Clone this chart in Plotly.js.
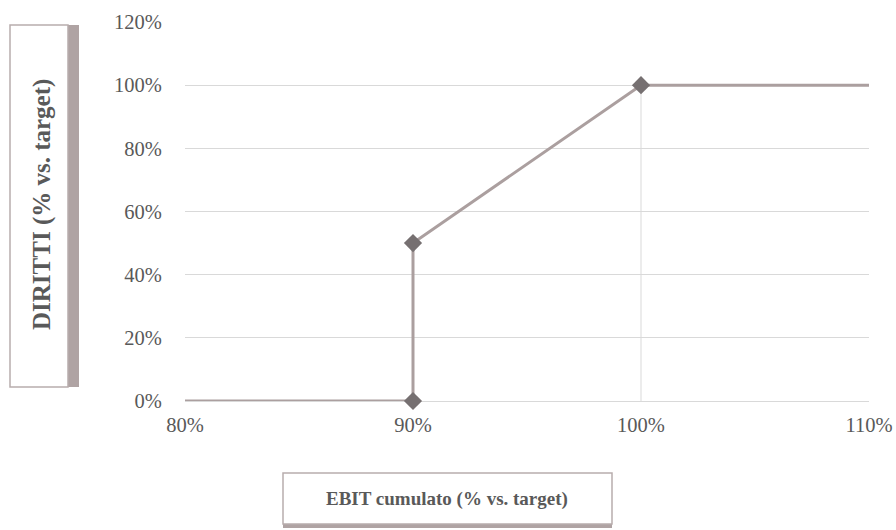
<!DOCTYPE html>
<html>
<head>
<meta charset="utf-8">
<script src="https://cdn.plot.ly/plotly-3.0.1.min.js"></script>
<style>html,body{margin:0;padding:0;background:#fff;}#chart{width:896px;height:530px;}</style>
</head>
<body>
<div id="chart"></div>
<script>
// Data (percent values)
const ebit = [80, 90, 90, 100, 110];
const diritti = [0, 0, 50, 100, 100];
const xTicks = [80, 90, 100, 110];
const yTicks = [0, 20, 40, 60, 80, 100, 120];
const xTitle = 'EBIT cumulato (% vs. target)';
const yTitle = 'DIRITTI (% vs. target)';

const serif = 'Liberation Serif, Times New Roman, serif';
const grey = '#595959';

const dropLine = {
  x: [ebit[3], ebit[3]], y: [0, diritti[3]],
  mode: 'lines', line: {color: '#d9d9d9', width: 1},
  hoverinfo: 'skip', showlegend: false
};
const mainLine = {
  x: ebit, y: diritti, mode: 'lines',
  line: {color: '#ab9f9f', width: 3},
  cliponaxis: false, showlegend: false
};
const markers = {
  x: ebit.slice(1, 4), y: diritti.slice(1, 4), mode: 'markers',
  marker: {symbol: 'diamond', size: 14, color: '#767071'},
  cliponaxis: false, showlegend: false
};

const layout = {
  width: 896, height: 530,
  margin: {l: 185, r: 27, t: 22, b: 129},
  paper_bgcolor: '#fff', plot_bgcolor: '#fff',
  xaxis: {
    range: [80, 110], tickvals: xTicks, ticktext: xTicks.map(v => v + '%'),
    showgrid: false, zeroline: false, showline: false,
    ticks: 'outside', ticklen: 5, tickcolor: 'rgba(0,0,0,0)',
    tickfont: {family: serif, size: 20.5, color: grey}, fixedrange: true
  },
  yaxis: {
    range: [0, 120], tickvals: yTicks, ticktext: yTicks.map(v => v + '%'),
    showgrid: true, gridcolor: '#d9d9d9', gridwidth: 1,
    zeroline: true, zerolinecolor: '#d9d9d9', zerolinewidth: 1, showline: false,
    ticks: 'outside', ticklen: 18, tickcolor: 'rgba(0,0,0,0)',
    tickfont: {family: serif, size: 20.5, color: grey}, fixedrange: true
  },
  shapes: [
    {type: 'rect', xref: 'paper', yref: 'paper', xsizemode: 'pixel', ysizemode: 'pixel',
     xanchor: 0, yanchor: 0, x0: -118, x1: -106, y0: 14, y1: 376,
     fillcolor: '#afa3a3', line: {width: 0}},
    {type: 'rect', xref: 'paper', yref: 'paper', xsizemode: 'pixel', ysizemode: 'pixel',
     xanchor: 0, yanchor: 0, x0: -175, x1: -117, y0: 14, y1: 376,
     fillcolor: '#ffffff', line: {color: '#b8adad', width: 1.5}},
    {type: 'rect', xref: 'paper', yref: 'paper', xsizemode: 'pixel', ysizemode: 'pixel',
     xanchor: 0, yanchor: 0, x0: 98, x1: 427, y0: -127, y1: -122,
     fillcolor: '#afa3a3', line: {width: 0}},
    {type: 'rect', xref: 'paper', yref: 'paper', xsizemode: 'pixel', ysizemode: 'pixel',
     xanchor: 0, yanchor: 0, x0: 98, x1: 427, y0: -123, y1: -72,
     fillcolor: '#ffffff', line: {color: '#b8adad', width: 1.5}}
  ],
  annotations: [
    {text: '<b>' + yTitle + '</b>', textangle: -90, showarrow: false,
     xref: 'paper', yref: 'paper', x: (42 - 185) / 684, y: (401 - 205) / 379,
     xanchor: 'center', yanchor: 'middle',
     font: {family: serif, size: 25, color: grey}},
    {text: '<b>' + xTitle + '</b>', showarrow: false,
     xref: 'paper', yref: 'paper', x: (447 - 185) / 684, y: (401 - 499) / 379,
     xanchor: 'center', yanchor: 'middle',
     font: {family: serif, size: 19, color: grey}}
  ]
};

Plotly.newPlot('chart', [dropLine, mainLine, markers], layout, {displayModeBar: false, staticPlot: true});
</script>
</body>
</html>
